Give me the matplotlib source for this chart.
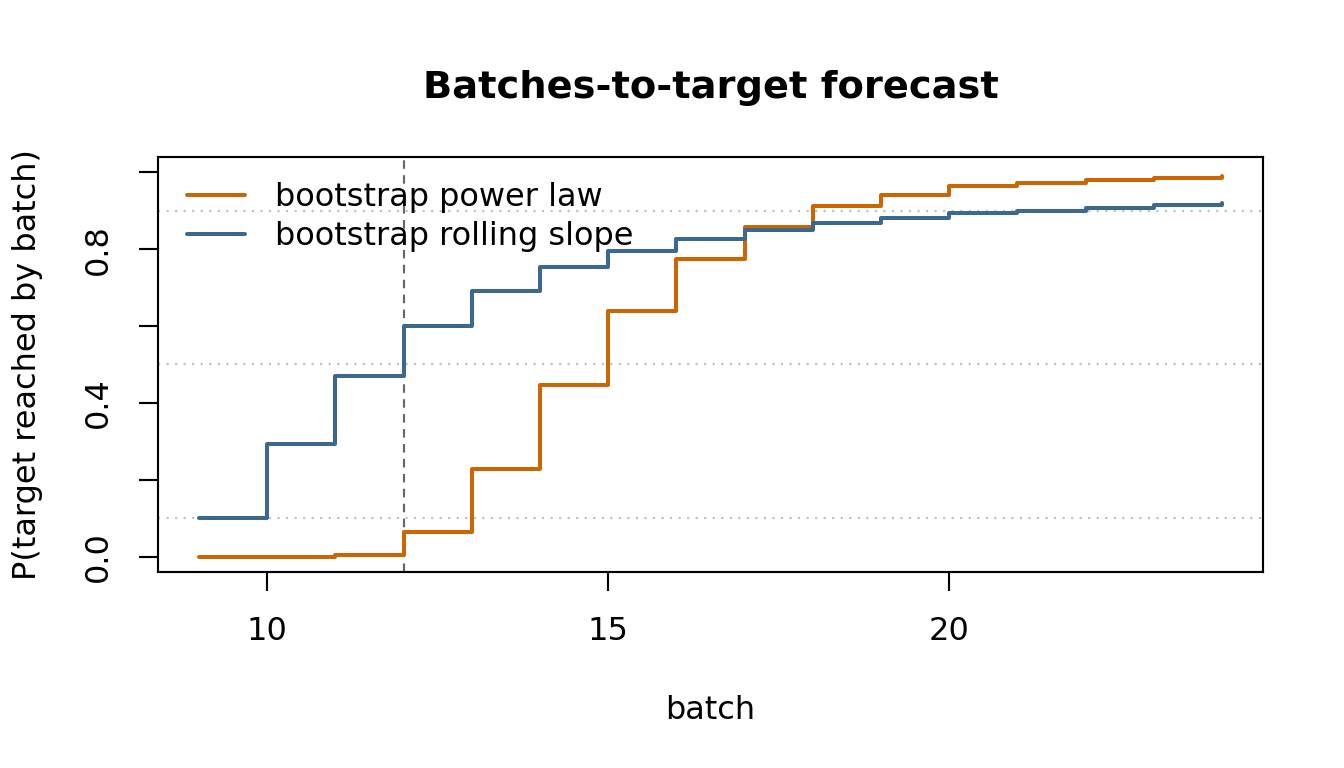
import matplotlib
matplotlib.use("Agg")
import matplotlib.pyplot as plt

# values (R-style step plot)
batches = [9, 10, 11, 12, 13, 14, 15, 16, 17, 18, 19, 20, 21, 22, 23, 24]
p_power_law = [0.0, 0.0, 0.005, 0.063, 0.228, 0.447, 0.640, 0.775, 0.858,
               0.912, 0.942, 0.964, 0.973, 0.979, 0.986, 0.990]
p_rolling_slope = [0.101, 0.293, 0.469, 0.601, 0.690, 0.753, 0.795, 0.827, 0.849,
                   0.867, 0.881, 0.893, 0.899, 0.907, 0.915, 0.920]
ref_levels = [0.1, 0.5, 0.9]
current_batch = 12

ORANGE = "#CC6600"
BLUE = "#3A6890"

plt.rcParams["font.family"] = ["DejaVu Sans"]
plt.rcParams["font.size"] = 12

fig = plt.figure(figsize=(7, 4), dpi=192)
ax = fig.add_axes([158 / 1344, 1 - 572 / 768, (1263 - 158) / 1344, (572 - 157) / 768])

for lvl in ref_levels:
    ax.axhline(lvl, color="#BEBEBE", lw=0.8, ls=(0, (1, 3)), zorder=1)
ax.axvline(current_batch, color="#666666", lw=0.8, ls=(0, (4, 3)), zorder=1)

ax.step(batches, p_power_law, where="post", color=ORANGE, lw=1.5,
        solid_capstyle="round", label="bootstrap power law", zorder=3)
ax.step(batches, p_rolling_slope, where="post", color=BLUE, lw=1.5,
        solid_capstyle="round", label="bootstrap rolling slope", zorder=3)

ax.set_xlim(8.4, 24.6)
ax.set_ylim(-0.04, 1.04)
ax.set_xticks([10, 15, 20])
ax.set_yticks([0, 0.2, 0.4, 0.6, 0.8, 1.0])
ax.set_yticklabels(["0.0", "", "0.4", "", "0.8", ""], rotation=90, va="center")
ax.tick_params(length=7, width=0.8, pad=9.5, labelsize=12)
for sp in ax.spines.values():
    sp.set_linewidth(0.8)

ax.set_xlabel("batch", labelpad=18)
ax.set_ylabel("P(target reached by batch)", labelpad=15)
ax.set_title("Batches-to-target forecast", fontsize=14.4, fontweight="bold", pad=22)

ax.legend(loc="upper left", frameon=False, handlelength=1.8, handletextpad=0.95,
          labelspacing=0.25, borderaxespad=0.2, bbox_to_anchor=(0.009, 0.985))

fig.savefig("out.png", dpi=192)
